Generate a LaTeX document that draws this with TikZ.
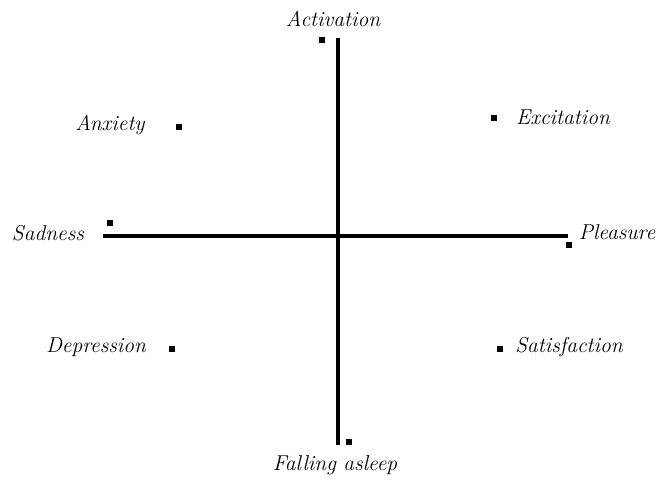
\documentclass[tikz,border=0pt]{standalone}
\usepackage{tikz}
\usetikzlibrary{positioning}

\begin{document}
\begin{tikzpicture}[
  x=1pt, y=-1pt,
  lbl/.style={font=\fontsize{21.5}{24}\selectfont\itshape, inner sep=0pt},
  dot/.style={rectangle, fill=black, minimum size=5.5pt, inner sep=0pt},
  axis/.style={line width=3.2pt, black}
]
\useasboundingbox (0,0) rectangle (664,482);
% axes
\coordinate (top) at (338,38);
\coordinate (bottom) at (338,445);
\coordinate (left) at (103,236);
\coordinate (right) at (568,236);
\draw[axis] (top) -- (bottom);
\draw[axis] (left) -- (right);
% emotions
\node[dot] (activation) at (322,40) {};
\node[lbl] (tactivation) at (333,19) {Activation};
\node[dot] (asleep) at (349,442) {};
\node[lbl] (tasleep) at (335,465) {Falling asleep};
\node[dot] (sadness) at (110,223) {};
\node[lbl] (tsadness) at (48,233) {Sadness};
\node[dot] (pleasure) at (569,245) {};
\node[lbl] (tpleasure) at (617,232) {Pleasure};
\node[dot] (anxiety) at (179,127) {};
\node[lbl] (tanxiety) at (110,125) {Anxiety};
\node[dot] (excitation) at (494,118) {};
\node[lbl] (texcitation) at (563,117) {Excitation};
\node[dot] (depression) at (172,349) {};
\node[lbl] (tdepression) at (96,347) {Depression};
\node[dot] (satisfaction) at (500,349) {};
\node[lbl] (tsatisfaction) at (569,347) {Satisfaction};
\end{tikzpicture}
\end{document}
